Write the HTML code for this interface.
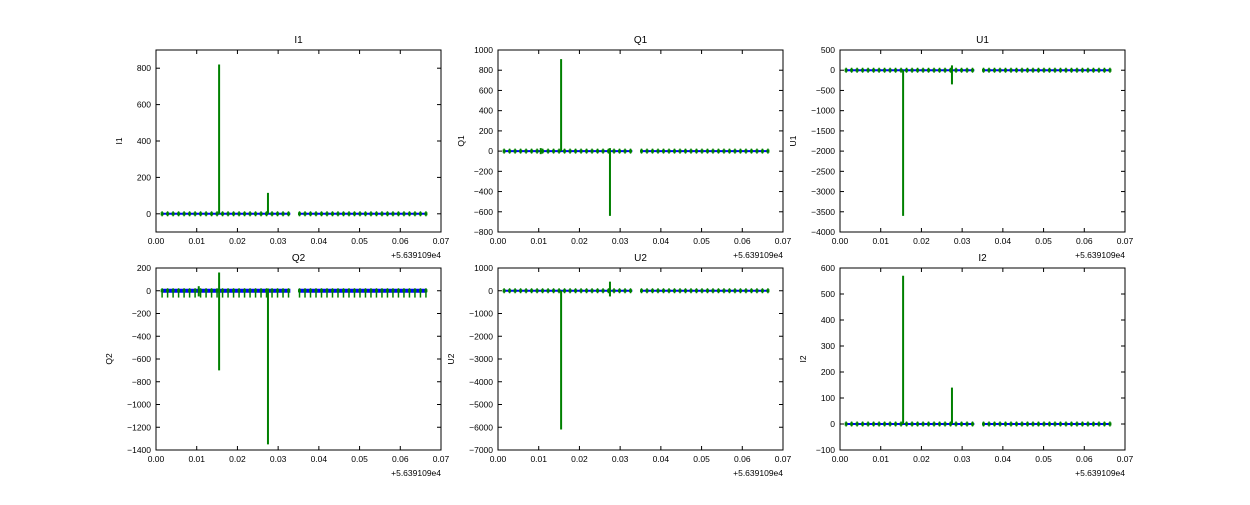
<!DOCTYPE html>
<html><head><meta charset="utf-8"><style>
body{margin:0;background:#fff;width:1250px;height:500px;overflow:hidden}
svg{font-family:"Liberation Sans","DejaVu Sans",sans-serif}
</style></head><body>
<svg id="s" width="1250" height="500" xmlns="http://www.w3.org/2000/svg"></svg>
<script>
const S=document.getElementById('s');let out='';
function ax(x0,y0,w,h,ymin,ymax,step,title,spikes,q2){
 const X=v=>x0+v/0.07*w, Y=v=>y0+h-(v-ymin)/(ymax-ymin)*h;
 let pts=[];for(let v=0.0015;v<=0.0666;v+=0.00135){if(v>0.033&&v<0.035)continue;pts.push(v);}
 let y0v=Y(0);
 let lw=q2?4:2;
 out+=`<polyline fill="none" stroke="#0000ff" stroke-width="${lw}" points="${X(0.0015)},${y0v} ${X(0.033)},${y0v}"/>`;
 out+=`<polyline fill="none" stroke="#0000ff" stroke-width="${lw}" points="${X(0.035)},${y0v} ${X(0.0665)},${y0v}"/>`;
 pts.forEach((v,i)=>{let d=q2?Y(-60):y0v+2.5;
  out+=`<line x1="${X(v)}" x2="${X(v)}" y1="${y0v-2.5}" y2="${d}" stroke="#008000" stroke-width="1.5"/><rect x="${X(v)-1.5}" y="${y0v-1.5}" width="3" height="3" fill="#008000"/>`;});
 spikes.forEach(s=>{out+=`<line x1="${X(s[0])}" x2="${X(s[0])}" y1="${Y(s[1])}" y2="${Y(s[2])}" stroke="#008000" stroke-width="2"/>`;});
 out+=`<rect x="${x0}" y="${y0}" width="${w}" height="${h}" fill="none" stroke="#000" stroke-width="1"/>`;
 for(let i=0;i<=7;i++){let x=X(i*0.01);out+=`<line x1="${x}" x2="${x}" y1="${y0+h}" y2="${y0+h-4}" stroke="#000"/><line x1="${x}" x2="${x}" y1="${y0}" y2="${y0+4}" stroke="#000"/><text x="${x}" y="${y0+h+12}" font-size="8.5" text-anchor="middle">${(i/100).toFixed(2)}</text>`;}
 let st=Math.ceil(ymin/step)*step;
 for(let v=st;v<=ymax+1e-9;v+=step){let y=Y(v);out+=`<line x1="${x0}" x2="${x0+4}" y1="${y}" y2="${y}" stroke="#000"/><line x1="${x0+w}" x2="${x0+w-4}" y1="${y}" y2="${y}" stroke="#000"/><text x="${x0-5}" y="${y+3}" font-size="8.5" text-anchor="end">${v<0?'\u2212'+(-v):v}</text>`;}
 out+=`<text x="${x0+w}" y="${y0+h+26}" font-size="8.5" text-anchor="end">+5.639109e4</text>`;
 out+=`<text x="${x0+w/2}" y="${y0-7}" font-size="10" text-anchor="middle">${title}</text>`;
 let lx=x0-(String(ymin).length>=5?44:34);
 out+=`<text transform="translate(${lx},${y0+h/2}) rotate(-90)" font-size="8.5" text-anchor="middle">${title}</text>`;
}
ax(156,50,285,182,-100,900,200,'I1',[[0.0155,0,820],[0.0275,0,115]]);
ax(498,50,285,182,-800,1000,200,'Q1',[[0.0155,0,910],[0.0275,30,-640],[0.0105,30,-30]]);
ax(840,50,285,182,-4000,500,500,'U1',[[0.0155,0,-3600],[0.0275,120,-350]]);
ax(156,268,285,182,-1400,200,200,'Q2',[[0.0155,160,-700],[0.0275,20,-1350],[0.0105,40,-50]],true);
ax(498,268,285,182,-7000,1000,1000,'U2',[[0.0155,0,-6100],[0.0275,400,-250]]);
ax(840,268,285,182,-100,600,100,'I2',[[0.0155,0,570],[0.0275,0,140]]);
S.innerHTML=out;
</script>
</body></html>
